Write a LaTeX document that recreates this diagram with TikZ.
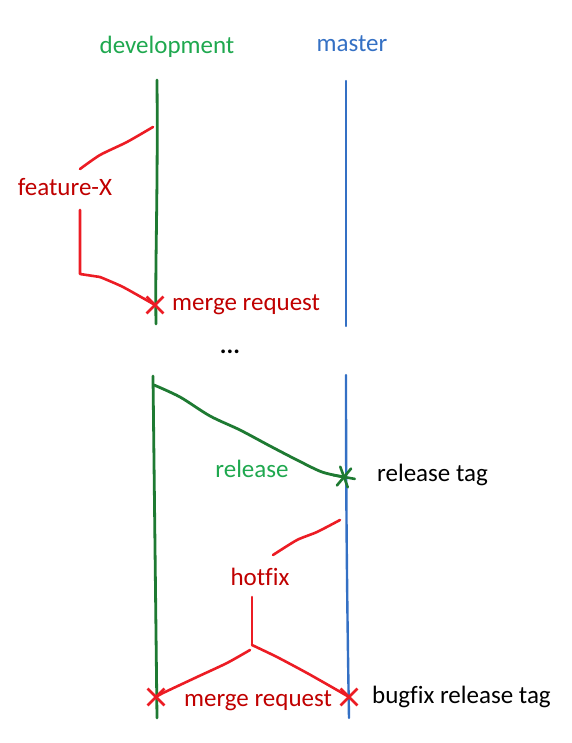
\documentclass[tikz,border=0pt]{standalone}
\usepackage{fontspec}
\setmainfont{Carlito}[Ligatures=NoCommon]
\usetikzlibrary{shapes.misc,calc}
\definecolor{devtext}{HTML}{1FA84F}
\definecolor{devline}{HTML}{1E7A32}
\definecolor{mastblue}{HTML}{3470C4}
\definecolor{redline}{HTML}{EC1C24}
\definecolor{redtext}{HTML}{C00000}
\tikzset{
  lbl/.style={inner sep=0pt, font=\fontsize{25}{30}\selectfont},
  devbranch/.style={draw=devline, line width=2.8pt, line cap=round, line join=round},
  mastbranch/.style={draw=mastblue, line width=2.4pt, line cap=round},
  redbranch/.style={draw=redline, line width=2.6pt, line cap=round, line join=round},
  xmark/.style={cross out, draw=redline, line width=2.8pt, minimum size=14pt, inner sep=0pt},
}
\begin{document}
\begin{tikzpicture}[x=1pt,y=-1pt]
\useasboundingbox (0,0) rectangle (571,743);
% headers
\node[lbl, text=devtext] (devlabel) at (167,47) {development};
\node[lbl, text=mastblue] (mastlabel) at (352,44) {master};
\node[lbl] (dots) at (230,352) {\textbf{...}};
% top branch lines
\coordinate (dtop) at (157,80);
\coordinate (dmid) at (156,324);
\coordinate (mtop) at (346,81);
\coordinate (mmid) at (346,326);
\draw[devbranch] (dtop) .. controls (158,200) and (155,260) .. (dmid);
\draw[mastbranch] (mtop) -- (mmid);
% feature-X
\node[lbl, text=redtext] (featx) at (65,187) {feature-X};
\coordinate (fstart) at (153,127);
\coordinate (fcorner) at (80,274);
\node[xmark] (fmerge) at (155,305) {};
\draw[redbranch] plot[smooth, tension=0.4] coordinates {(fstart) (127,142) (100,155) (80,169)};
\draw[redbranch] (80,210) -- (fcorner) -- (100,277);
\draw[redbranch] plot[smooth, tension=0.4] coordinates {(100,277) (123,287) (fmerge.center)};
\node[lbl, text=redtext, anchor=west] (mr1) at (172,305) {merge request};
% bottom branch lines
\coordinate (dbtop) at (153,376);
\coordinate (dbbot) at (157,718);
\coordinate (mbtop) at (346,375);
\coordinate (mbbot) at (349,718);
\draw[devbranch] (dbtop) -- (dbbot);
\draw[mastbranch] (mbtop) .. controls (346,500) and (347,600) .. (mbbot);
% release
\coordinate (relstart) at (154,385);
\node[inner sep=0pt] (reltag) at (344,477) {};
\draw[devbranch] plot[smooth, tension=0.5] coordinates {(relstart) (180,397) (210,416) (240,430) (270,446) (297,460) (322,472) (reltag.center)};
\foreach \a in {10,70,130} \draw[devbranch, line width=2.6pt] ($(reltag)+(\a:11)$) -- ($(reltag)+(\a+180:11)$);
\node[lbl, text=devtext] (rellabel) at (252,469) {release};
\node[lbl, anchor=west] (reltaglabel) at (377,475) {release tag};
% hotfix
\coordinate (hstart) at (340,520);
\node[lbl, text=redtext] (hotfix) at (260,577) {hotfix};
\draw[redbranch] plot[smooth, tension=0.4] coordinates {(hstart) (317,532) (297,540) (273,555)};
\coordinate (hsplit) at (252,645);
\node[xmark] (hleft) at (156,697) {};
\node[xmark] (hright) at (349,697) {};
\draw[redbranch] (252,597) -- (hsplit);
\draw[redbranch] plot[smooth, tension=0.4] coordinates {(250,650) (227,663) (197,677) (163,693) (hleft.center)};
\draw[redbranch] plot[smooth, tension=0.4] coordinates {(hsplit) (277,657) (307,673) (337,690) (hright.center)};
\node[lbl, text=redtext] (mr2) at (258,701) {merge request};
\node[lbl, anchor=west] (bugfix) at (372,697) {bugfix release tag};
\end{tikzpicture}
\end{document}
